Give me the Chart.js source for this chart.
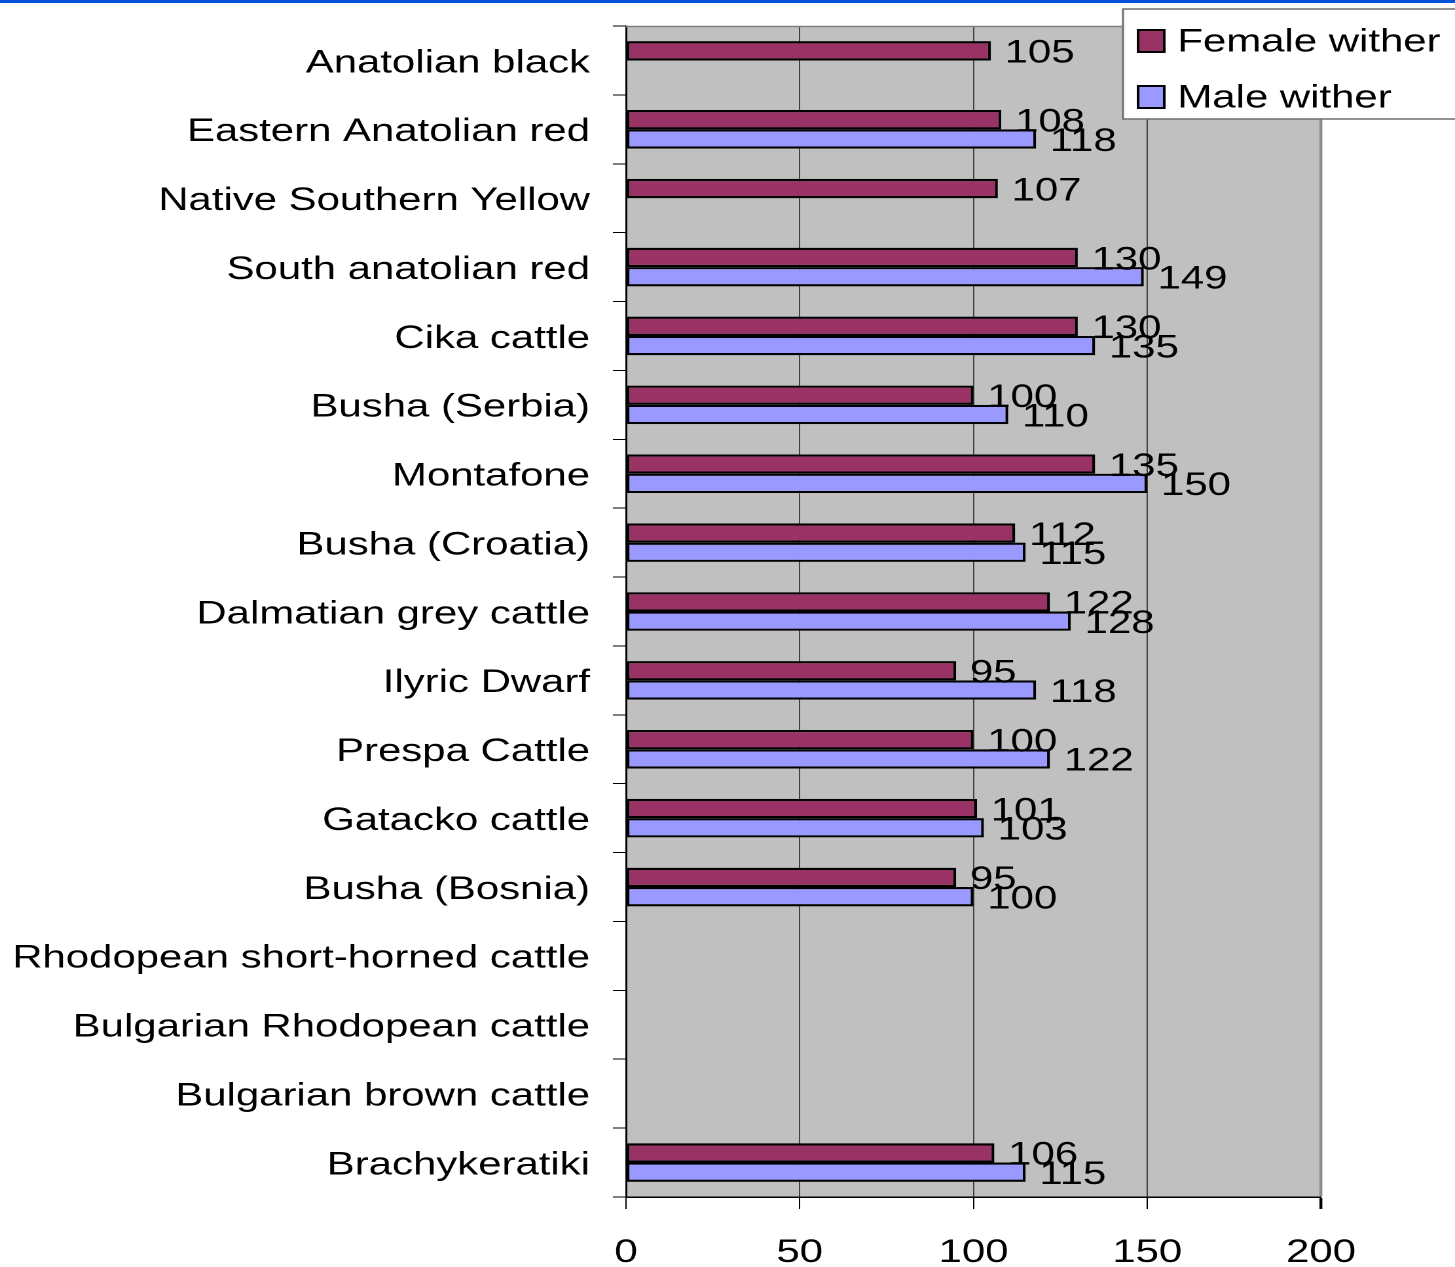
<!DOCTYPE html>
<html>
<head>
<meta charset="utf-8">
<script src="https://cdn.jsdelivr.net/npm/chart.js@4/dist/chart.umd.min.js"></script>
<style>
  html, body { margin: 0; padding: 0; background: #ffffff; overflow: hidden; }
  #wrap { position: absolute; left: 0; top: 0; width: 1111px; height: 1267px;
          transform: scaleX(1.30963); transform-origin: 0 0; }
</style>
</head>
<body>
<div id="wrap"><canvas id="c"></canvas></div>
<script>
const categories = [
  "Anatolian black",
  "Eastern Anatolian red",
  "Native Southern Yellow",
  "South anatolian red",
  "Cika cattle",
  "Busha (Serbia)",
  "Montafone",
  "Busha (Croatia)",
  "Dalmatian grey cattle",
  "Ilyric Dwarf",
  "Prespa Cattle",
  "Gatacko cattle",
  "Busha (Bosnia)",
  "Rhodopean short-horned cattle",
  "Bulgarian Rhodopean cattle",
  "Bulgarian brown cattle",
  "Brachykeratiki"
];
const femaleWither = [105, 108, 107, 130, 130, 100, 135, 112, 122, 95, 100, 101, 95, null, null, null, 106];
const maleWither   = [null, 118, null, 149, 135, 110, 150, 115, 128, 118, 122, 103, 100, null, null, null, 115];
const seriesNames = ["Female wither", "Male wither"];
const xTicks = [0, 50, 100, 150, 200];

const FONT = "'Liberation Sans', Arial, sans-serif";

const bgPlugin = {
  id: 'bgPlugin',
  beforeDraw(chart) {
    const ctx = chart.ctx, a = chart.chartArea;
    ctx.save();
    ctx.fillStyle = '#0052d9';
    ctx.fillRect(0, 0, chart.width, 3);
    ctx.fillStyle = '#c0c0c0';
    ctx.fillRect(a.left, a.top, a.right - a.left, a.bottom - a.top);
    ctx.restore();
  },
  afterDraw(chart) {
    const ctx = chart.ctx, a = chart.chartArea;
    ctx.save();
    // top border of plot
    ctx.strokeStyle = '#808080';
    ctx.lineWidth = 1.5;
    ctx.beginPath();
    ctx.moveTo(a.left, a.top + 0.5);
    ctx.lineTo(a.right, a.top + 0.5);
    ctx.stroke();
    // legend
    const lx = 857.5, ly = 9, lw = 300, lh = 110;
    ctx.fillStyle = '#ffffff';
    ctx.fillRect(lx, ly, lw, lh);
    ctx.strokeStyle = '#6e6e6e';
    ctx.lineWidth = 1.5;
    ctx.strokeRect(lx, ly, lw, lh);
    const ds = chart.data.datasets;
    const rows = [41, 97];
    ds.forEach((d, i) => {
      const cy = rows[i];
      ctx.fillStyle = d.backgroundColor;
      ctx.fillRect(869, cy - 11, 20, 22);
      ctx.strokeStyle = '#000000';
      ctx.lineWidth = 2;
      ctx.strokeRect(869, cy - 11, 20, 22);
      ctx.fillStyle = '#000000';
      ctx.font = '32px ' + FONT;
      ctx.textAlign = 'left';
      ctx.textBaseline = 'middle';
      ctx.fillText(d.label, 899, cy + 1.5);
    });
    ctx.restore();
  },
  afterDatasetsDraw(chart) {
    const ctx = chart.ctx;
    ctx.save();
    ctx.fillStyle = '#000000';
    ctx.font = '32px ' + FONT;
    ctx.textAlign = 'left';
    ctx.textBaseline = 'middle';
    chart.data.datasets.forEach((d, i) => {
      const meta = chart.getDatasetMeta(i);
      meta.data.forEach((bar, j) => {
        const v = d.data[j];
        if (v === null || v === undefined) return;
        ctx.fillText(String(v), bar.x + 10.5, bar.y + 3);
      });
    });
    ctx.restore();
  }
};

new Chart(document.getElementById('c'), {
  type: 'bar',
  data: {
    labels: categories,
    datasets: [
      { label: seriesNames[0], data: femaleWither, backgroundColor: '#993366',
        borderColor: '#000000', borderWidth: 2.2, borderSkipped: false },
      { label: seriesNames[1], data: maleWither, backgroundColor: '#9999ff',
        borderColor: '#000000', borderWidth: 2.2, borderSkipped: false }
    ]
  },
  options: {
    indexAxis: 'y',
    responsive: true,
    maintainAspectRatio: false,
    animation: false,
    devicePixelRatio: 2,
    layout: { padding: { top: 26, right: 102.3, left: 0, bottom: 0 } },
    datasets: { bar: { categoryPercentage: 0.56, barPercentage: 1.0 } },
    plugins: { legend: { display: false }, tooltip: { enabled: false } },
    scales: {
      y: {
        type: 'category',
        offset: true,
        grid: { display: true, offset: true, drawOnChartArea: false, drawTicks: true,
                tickLength: 10, color: '#000000', lineWidth: 1 },
        border: { display: true, color: '#000000', width: 1.5 },
        ticks: { color: '#000000', font: { family: FONT, size: 32 }, padding: 17.5,
                 autoSkip: false, labelOffset: 3 },
        afterFit(scale) { scale.width = 478; scale.paddingTop = 0; scale.paddingBottom = 0; }
      },
      x: {
        type: 'linear',
        min: 0, max: 200,
        afterBuildTicks(scale) { scale.ticks = xTicks.map(v => ({ value: v })); },
        grid: {
          display: true, drawOnChartArea: true, drawTicks: true, tickLength: 12,
          color: ctx => (ctx.tick && ctx.tick.value === 200) ? '#8c8c8c' : '#404040',
          lineWidth: ctx => (ctx.tick && ctx.tick.value === 200) ? 2.2 : 1,
          tickColor: '#000000'
        },
        border: { display: true, color: '#000000', width: 1.5 },
        ticks: { color: '#000000', font: { family: FONT, size: 32 }, padding: 25, maxRotation: 0 },
        afterFit(scale) { scale.height = 70; }
      }
    }
  },
  plugins: [bgPlugin]
});
</script>
</body>
</html>
